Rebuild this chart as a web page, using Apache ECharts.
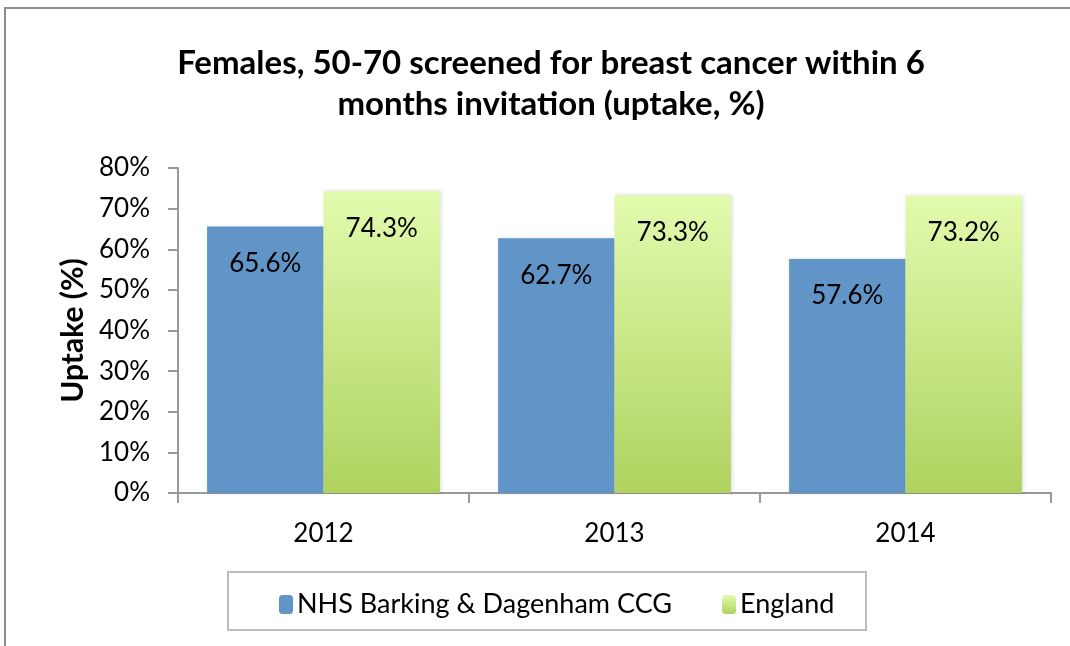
<!DOCTYPE html>
<html>
<head>
<meta charset="utf-8">
<script src="https://cdn.jsdelivr.net/npm/echarts@6/dist/echarts.min.js"></script>
<style>
  html, body { margin: 0; padding: 0; background: #fff; }
  #chart { width: 1070px; height: 646px; }
</style>
</head>
<body>
<div id="chart"></div>
<script>
const years = ['2012', '2013', '2014']
const ccgValues = [65.6, 62.7, 57.6]
const englandValues = [74.3, 73.3, 73.2]
const yTicks = [0, 10, 20, 30, 40, 50, 60, 70, 80]

const font = 'Lato, "Open Sans", sans-serif'
const chart = echarts.init(document.getElementById('chart'))

const label = {
  show: true, position: 'insideTop', distance: 24,
  fontFamily: font, fontSize: 26, color: '#000',
  formatter: p => p.value.toFixed(1) + '%'
}

chart.setOption({
  animation: false,
  textStyle: { fontFamily: font },
  title: {
    text: 'Females, 50-70 screened for breast cancer within 6\nmonths invitation (uptake, %)',
    left: 546, top: 38, textAlign: 'center',
    textStyle: { fontFamily: font, fontSize: 33, fontWeight: 'bold', color: '#000', lineHeight: 41 }
  },
  graphic: [
    { type: 'rect', shape: { x: 5, y: 8, width: 1100, height: 700 }, style: { fill: 'none', stroke: '#8c8c8c', lineWidth: 2 }, z: -1 },
    { type: 'rect', shape: { x: 228, y: 572, width: 638, height: 58 }, style: { fill: 'none', stroke: '#bdbdbd', lineWidth: 2 }, z: -1 }
  ],
  legend: {
    left: 274, top: 586,
    itemWidth: 14, itemHeight: 19, itemGap: 50,
    textStyle: { fontFamily: font, fontSize: 27, color: '#000', padding: [0, 0, 0, -1] },
    data: ['NHS Barking & Dagenham CCG', 'England']
  },
  grid: { left: 178, right: 19, top: 168, bottom: 153 },
  xAxis: {
    type: 'category', data: years,
    axisLine: { lineStyle: { color: '#999', width: 2 } },
    axisTick: { show: true, length: 10, lineStyle: { color: '#999', width: 2 } },
    axisLabel: { fontFamily: font, fontSize: 26, color: '#000', margin: 28 }
  },
  yAxis: {
    type: 'value', min: yTicks[0], max: yTicks[yTicks.length - 1], interval: 10,
    name: 'Uptake (%)', nameLocation: 'middle', nameGap: 62, nameRotate: 90,
    nameTextStyle: { fontFamily: font, fontSize: 30, fontWeight: 'bold', color: '#000' },
    axisLine: { show: true, lineStyle: { color: '#999', width: 2 } },
    axisTick: { show: true, length: 10, inside: false, lineStyle: { color: '#999', width: 2 } },
    axisLabel: { fontFamily: font, fontSize: 26, color: '#000', margin: 28, formatter: v => v + '%' },
    splitLine: { show: false }
  },
  series: [
    {
      name: 'NHS Barking & Dagenham CCG', type: 'bar', data: ccgValues,
      barGap: '0%', barCategoryGap: '20%',
      itemStyle: { color: '#6195c8', shadowColor: 'rgba(0,0,0,0.15)', shadowBlur: 4, shadowOffsetX: 1 },
      label
    },
    {
      name: 'England', type: 'bar', data: englandValues,
      itemStyle: {
        color: new echarts.graphic.LinearGradient(0, 0, 0, 1, [
          { offset: 0, color: '#e2fbae' },
          { offset: 1, color: '#afd25f' }
        ]),
        shadowColor: 'rgba(0,0,0,0.15)', shadowBlur: 4, shadowOffsetX: 1
      },
      label
    }
  ]
})
</script>
</body>
</html>
